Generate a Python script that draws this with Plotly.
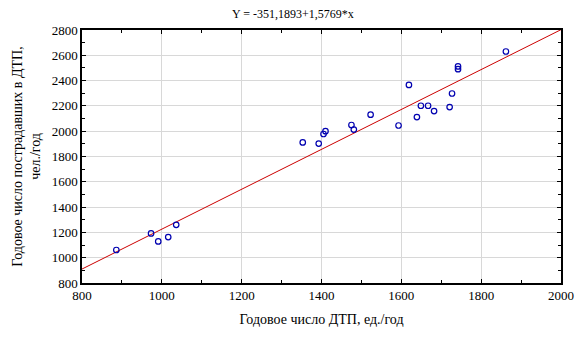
import plotly.graph_objects as go

# Data
dtp = [886, 973, 991, 1016, 1036, 1353, 1393, 1405, 1410, 1475, 1481, 1523,
       1593, 1619, 1639, 1649, 1667, 1682, 1721, 1727, 1742, 1742, 1862]
victims = [1061, 1192, 1129, 1163, 1260, 1911, 1902, 1978, 2000, 2049, 2013, 2131,
           2045, 2366, 2112, 2201, 2201, 2159, 2191, 2298, 2490, 2512, 2630]
intercept = -351.1893
slope = 1.5769
x_line = [800, 2000]
y_line = [intercept + slope * v for v in x_line]

font_serif = "Liberation Serif"

fig = go.Figure()
fig.add_trace(go.Scatter(x=x_line, y=y_line, mode="lines",
                         line=dict(color="#CC0000", width=1), hoverinfo="skip"))
fig.add_trace(go.Scatter(x=dtp, y=victims, mode="markers",
                         marker=dict(symbol="circle-open", size=5.5, color="#0000B0",
                                     line=dict(width=1.2, color="#0000B0"))))

axis_common = dict(
    showline=True, linecolor="black", linewidth=1.5, mirror="ticks",
    ticks="inside", ticklen=4, tickcolor="black", tickwidth=1,
    showgrid=True, gridcolor="#D8D8D8", gridwidth=1, zeroline=False,
    tickfont=dict(family=font_serif, size=13, color="black"),
)

fig.update_xaxes(range=[800, 2000], dtick=200, tick0=800,
                 minor=dict(ticks="inside", dtick=100, ticklen=3, tickcolor="black", showgrid=False),
                 title=dict(text="Годовое число ДТП, ед./год",
                            font=dict(family=font_serif, size=14, color="black"), standoff=12),
                 **axis_common)
fig.update_yaxes(range=[800, 2800], dtick=200, tick0=800,
                 minor=dict(ticks="inside", dtick=100, ticklen=3, tickcolor="black", showgrid=False),
                 title=dict(text="Годовое число пострадавших в ДТП,<br>чел./год",
                            font=dict(family=font_serif, size=14, color="black"), standoff=8),
                 **axis_common)

fig.update_layout(
    width=586, height=337,
    margin=dict(l=82, r=20, t=30, b=52),
    paper_bgcolor="white", plot_bgcolor="white",
    showlegend=False,
    title=dict(text="Y = -351,1893+1,5769*x", x=0.5, xanchor="center",
               y=0.958, yanchor="middle",
               font=dict(family=font_serif, size=12, color="black")),
)

fig.write_html("out.html")
